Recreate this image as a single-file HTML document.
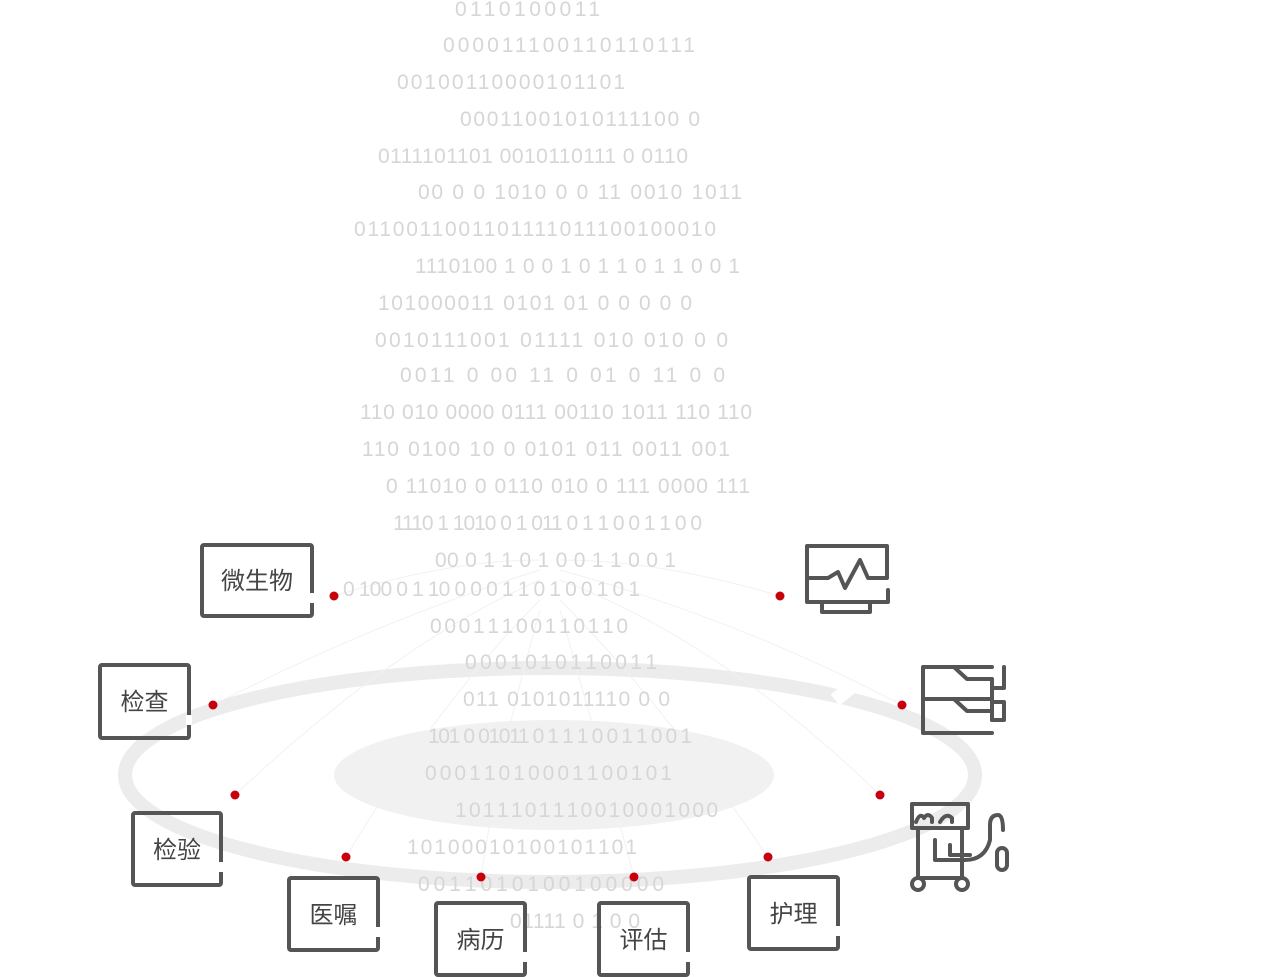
<!DOCTYPE html>
<html><head><meta charset="utf-8"><style>
html,body{margin:0;padding:0;background:#fff;}
.box{position:absolute;border:4px solid #555;border-radius:4px;box-sizing:border-box;font-family:"Liberation Sans","Noto Sans CJK SC",sans-serif;font-size:24px;color:#444;display:flex;align-items:center;justify-content:center;padding-bottom:4px;}
.gap{position:absolute;right:-5px;width:6px;height:10px;background:#fff;}
</style></head><body>
<div style="position:relative;width:1280px;height:977px;overflow:hidden;">
<svg width="1280" height="977" style="position:absolute;left:0;top:0">
<ellipse cx="554" cy="775" rx="220" ry="55" fill="#f1f1f1"/>
<ellipse cx="550" cy="775" rx="425" ry="107" fill="none" stroke="#ececec" stroke-width="14"/>
<line x1="835" y1="700" x2="860" y2="680" stroke="#fff" stroke-width="14"/>
<g stroke="#f7efef" stroke-width="1" fill="none">
<path d="M334 596 Q450 560 540 560"/><path d="M213 705 Q380 620 540 570"/>
<path d="M235 795 Q400 640 540 580"/><path d="M346 857 Q440 700 540 600"/>
<path d="M481 877 Q500 750 540 610"/><path d="M634 877 Q600 750 560 610"/>
<path d="M768 857 Q660 700 560 600"/><path d="M880 795 Q720 640 560 580"/>
<path d="M902 705 Q740 620 560 570"/><path d="M780 596 Q660 560 560 560"/>
</g>
<g font-family="Liberation Sans,sans-serif" font-size="21" fill="#d6d6d6" lengthAdjust="spacing">
<text x="455" y="16" textLength="145">0110100011</text>
<text x="443" y="52" textLength="252">000011100110110111</text>
<text x="397" y="89" textLength="228">00100110000101101</text>
<text x="460" y="126" textLength="240">00011001010111100 0</text>
<text x="378" y="163" textLength="310">0111101101 0010110111 0 0110</text>
<text x="418" y="199" textLength="324">00 0 0 1010 0 0 11 0010 1011</text>
<text x="354" y="236" textLength="362">0110011001101111011100100010</text>
<text x="415" y="273" textLength="325">1110100 1 0 0 1 0 1 1 0 1 1 0 0 1</text>
<text x="378" y="310" textLength="314">101000011 0101 01 0 0 0 0 0</text>
<text x="375" y="347" textLength="353">0010111001 01111 010 010 0 0</text>
<text x="400" y="382" textLength="325">0011 0 00 11 0 01 0 11 0 0</text>
<text x="360" y="419" textLength="392">110 010 0000 0111 00110 1011 110 110</text>
<text x="362" y="456" textLength="368">110 0100 10 0 0101 011 0011 001</text>
<text x="386" y="493" textLength="364">0 11010 0 0110 010 0 111 0000 111</text>
<text x="393" y="530" textLength="309">1110 1 1010 0 1 011 0 1 1 0 0 1 1 0 0</text>
<text x="435" y="567" textLength="241">00 0 1 1 0 1 0 0 1 1 0 0 1</text>
<text x="343" y="596" textLength="297">0 100 0 1 10 0 0 0 1 1 0 1 0 0 1 0 1</text>
<text x="430" y="633" textLength="198">0 0 0 1 1 1 0 0 1 1 0 1 1 0</text>
<text x="465" y="669" textLength="192">0 0 0 1 0 1 0 1 1 0 0 1 1</text>
<text x="463" y="706" textLength="207">011 0101011110 0 0</text>
<text x="428" y="743" textLength="264">101 0 01011 0 1 1 1 0 0 1 1 0 0 1</text>
<text x="425" y="780" textLength="247">0 0 0 1 1 0 1 0 0 0 1 1 0 0 1 0 1</text>
<text x="455" y="817" textLength="263">1 0 1 1 1 0 1 1 1 0 0 1 0 0 0 1 0 0 0</text>
<text x="407" y="854" textLength="230">1 0 1 0 0 0 1 0 1 0 0 1 0 1 1 0 1</text>
<text x="418" y="891" textLength="246">0 0 1 1 0 1 0 1 0 0 1 0 0 0 0 0</text>
<text x="510" y="928" textLength="130">01111 0 1 0 0</text>
</g>
<g fill="#c8000b">
<circle cx="334" cy="596" r="4.5"/><circle cx="213" cy="705" r="4.5"/><circle cx="235" cy="795" r="4.5"/>
<circle cx="346" cy="857" r="4.5"/><circle cx="481" cy="877" r="4.5"/><circle cx="634" cy="877" r="4.5"/>
<circle cx="768" cy="857" r="4.5"/><circle cx="880" cy="795" r="4.5"/><circle cx="902" cy="705" r="4.5"/>
<circle cx="780" cy="596" r="4.5"/>
</g>
<g fill="none" stroke="#555" stroke-width="4" stroke-linecap="round" stroke-linejoin="round">
<path d="M888 590 V602 H807 V546 H887 V578 H868 L860 560 L845 588 L838 572 L828 578 H807"/>
<path d="M822 603 V612 H870 V603"/>
<path d="M992 667 H923 V733 H992"/>
<path d="M923 699 H992 V720 M923 699"/>
<path d="M955 668 L967 679 H992 V699"/>
<path d="M955 700 L967 711 H992"/>
<path d="M1004 667 V688 H992 M992 702 H1004 V720 H992"/>
<path d="M912 804 H968 V828 H912 Z"/>
<path d="M916 822 Q920 812 924 818 Q928 812 932 818 V822 M940 822 Q946 812 952 818 V822"/>
<path d="M918 828 V878 H962 V828"/>
<path d="M935 840 V860 H965 Q985 860 990 840 V825 Q990 815 998 815 Q1003 815 1003 830"/>
<path d="M950 845 V855 H970"/>
<rect x="997" y="848" width="10" height="22" rx="5"/>
<circle cx="918" cy="884" r="6"/><circle cx="962" cy="884" r="6"/>
</g>
</svg>
<div class="box" style="left:200px;top:543px;width:114px;height:75px;">微生物<div class="gap" style="top:46px"></div></div>
<div class="box" style="left:98px;top:663px;width:93px;height:77px;">检查<div class="gap" style="top:48px"></div></div>
<div class="box" style="left:131px;top:811px;width:92px;height:76px;">检验<div class="gap" style="top:47px"></div></div>
<div class="box" style="left:287px;top:876px;width:93px;height:76px;">医嘱<div class="gap" style="top:47px"></div></div>
<div class="box" style="left:434px;top:901px;width:93px;height:76px;">病历<div class="gap" style="top:47px"></div></div>
<div class="box" style="left:597px;top:901px;width:93px;height:76px;">评估<div class="gap" style="top:47px"></div></div>
<div class="box" style="left:747px;top:875px;width:93px;height:76px;">护理<div class="gap" style="top:47px"></div></div>
</div>
</body></html>
